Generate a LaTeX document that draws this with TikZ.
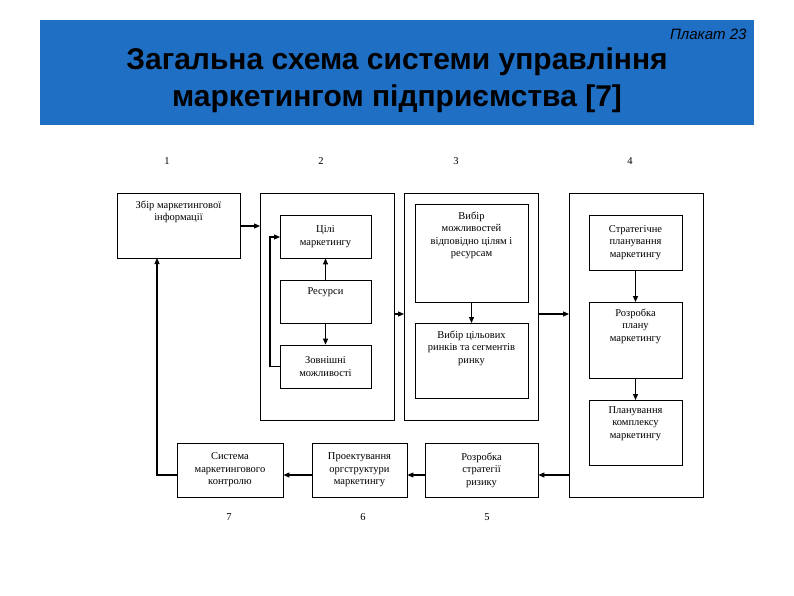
\documentclass[tikz,border=0pt]{standalone}
\usepackage{fontspec}
\setmainfont{Liberation Serif}
\newfontfamily\hsans{Liberation Sans}
\usetikzlibrary{arrows.meta}
\definecolor{hblue}{HTML}{1F6FC5}
\begin{document}
\begin{tikzpicture}[x=1pt,y=-1pt,
  bx/.style={draw,line width=0.8pt,inner sep=0pt},
  lbl/.style={font=\fontsize{10.5}{12.5}\selectfont,align=center},
  ar/.style={line width=1.1pt,-{Triangle[length=6pt,width=5pt]}}]
\useasboundingbox (0,0) rectangle (794,595);
\fill[hblue] (40,20) rectangle (754,125);
\node[font=\hsans\itshape\fontsize{15}{17}\selectfont,black,anchor=east] (pl) at (750,34) {Плакат 23};
\node[font=\hsans\bfseries\fontsize{30}{37}\selectfont,black,align=center] (title) at (397,80) {Загальна схема системи управління\\маркетингом підприємства [7]};
% numbers
\node[lbl] (n1) at (167,161) {1};
\node[lbl] (n2) at (321,161) {2};
\node[lbl] (n3) at (456,161) {3};
\node[lbl] (n4) at (630,161) {4};
\node[lbl] (n7) at (229,517) {7};
\node[lbl] (n6) at (363,517) {6};
\node[lbl] (n5) at (487,517) {5};
% containers
\draw[bx] (117,193) rectangle (240,258);
\node[lbl,anchor=north] (zb) at (178.5,197) {Збір маркетингової\\інформації};
\coordinate (zbB) at (157,258);
\draw[bx] (260,193) rectangle (394,420);
\draw[bx] (404,193) rectangle (538,420);
\draw[bx] (569,193) rectangle (703,497);
\coordinate (c2L) at (260,226);
\coordinate (c2R) at (394,314);
\coordinate (c3L) at (404,314);
\coordinate (c3R) at (538,314);
\coordinate (c4L) at (569,314);
\coordinate (c4B) at (569,475);
% inner boxes
\node[bx,lbl,minimum width=91pt,minimum height=43pt] (cil) at (325.5,236.5) {Цілі\\маркетингу};
\draw[bx] (280,280) rectangle (371,323);
\node[lbl] (res) at (325.5,292) {Ресурси};
\coordinate (resT) at (325.5,280);
\coordinate (resB) at (325.5,323);
\node[bx,lbl,minimum width=91pt,minimum height=43pt] (zov) at (325.5,366.5) {Зовнішні\\можливості};
\draw[bx] (415,204) rectangle (528,302);
\node[lbl,anchor=north] (vm) at (471.5,208) {Вибір\\можливостей\\відповідно цілям і\\ресурсам};
\draw[bx] (415,323) rectangle (528,398);
\node[lbl,anchor=north] (vc) at (471.5,327) {Вибір цільових\\ринків та сегментів\\ринку};
\node[bx,lbl,minimum width=93pt,minimum height=55pt] (str) at (635.5,242.5) {Стратегічне\\планування\\маркетингу};
\draw[bx] (589,302) rectangle (682,378);
\node[lbl,anchor=north] (rp) at (635.5,305) {Розробка\\плану\\маркетингу};
\draw[bx] (589,400) rectangle (682,465);
\node[lbl,anchor=north] (pk) at (635.5,403) {Планування\\комплексу\\маркетингу};
\node[bx,lbl,minimum width=113pt,minimum height=54pt] (rs) at (481.5,470) {Розробка\\стратегії\\ризику};
\node[bx,lbl,minimum width=95pt,minimum height=54pt] (po) at (359.5,470) {Проектування\\оргструктури\\маркетингу};
\node[bx,lbl,minimum width=106pt,minimum height=54pt] (sy) at (230,470) {Система\\маркетингового\\контролю};
% arrows
\draw[ar] (240,226) -- (c2L);
\draw[ar] (c2R) -- (c3L);
\draw[ar] (c3R) -- (c4L);
\draw[ar] (resT) -- (cil.south);
\draw[ar] (resB) -- (zov.north);
\draw[ar] (zov.west) -- (270,366.5) -- (270,237) -- (280,237);
\draw[ar] (471.5,302) -- (471.5,323);
\draw[ar] (str.south) -- (635.5,302);
\draw[ar] (635.5,378) -- (635.5,400);
\draw[ar] (c4B) -- (rs.east |- c4B);
\draw[ar] (rs.west |- c4B) -- (po.east |- c4B);
\draw[ar] (po.west |- c4B) -- (sy.east |- c4B);
\draw[ar] (sy.west |- c4B) -| (zbB);
\end{tikzpicture}
\end{document}
